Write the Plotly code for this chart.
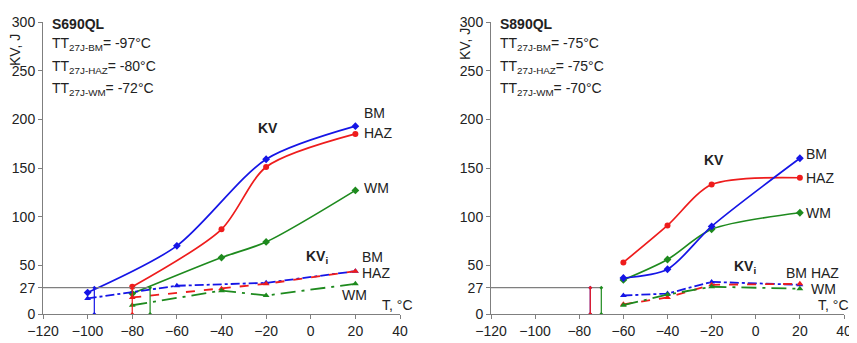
import plotly.graph_objects as go

# ---------- data ----------
temps_l = [-100, -60, -20, 20]
kv_bm_l = [22, 70, 159, 193]
temps_haz_l = [-80, -40, -20, 20]
kv_haz_l = [28, 87, 151, 185]
temps_wm_l = [-80, -40, -20, 20]
kv_wm_l = [21, 58, 74, 127]

kvi_bm_x_l = [-100, -60, -20, 20]
kvi_bm_l = [16, 29, 32, 44]
kvi_haz_x_l = [-80, -40, -20, 20]
kvi_haz_l = [17, 26, 31, 44]
kvi_wm_x_l = [-80, -40, -20, 20]
kvi_wm_l = [9, 24, 19, 31]

temps_r = [-60, -40, -20, 20]
kv_bm_r = [37, 46, 90, 160]
kv_haz_r = [53, 91, 133, 140]
kv_wm_r = [35, 56, 87, 104]
kvi_bm_r = [19, 21, 33, 30]
kvi_haz_r = [10, 17, 30, 31]
kvi_wm_r = [9, 20, 28, 26]

tt_l = {"BM": -97, "HAZ": -80, "WM": -72}
tt_r = {"BM": -75, "HAZ": -75, "WM": -70}
kv27 = 27

x_ticks = [-120, -100, -80, -60, -40, -20, 0, 20, 40]
y_ticks = [0, 27, 50, 100, 150, 200, 250, 300]

BLUE = "#1515e6"
RED = "#ee1c1c"
GREEN = "#1e8a1e"
GRAY = "#7f7f7f"

fig = go.Figure()

def add_panel(xa, ya, kv_sets, kvi_sets, tt):
    for (xs, ys, col, sym) in kv_sets:
        fig.add_trace(go.Scatter(x=xs, y=ys, mode="lines+markers", xaxis=xa, yaxis=ya,
                                 line=dict(color=col, width=1.7, shape="spline", smoothing=0.8),
                                 marker=dict(color=col, size=6, symbol=sym), showlegend=False))
    for (xs, ys, col, dash) in kvi_sets:
        fig.add_trace(go.Scatter(x=xs, y=ys, mode="lines+markers", xaxis=xa, yaxis=ya,
                                 line=dict(color=col, width=1.8, dash=dash),
                                 marker=dict(color=col, size=6, symbol="triangle-up"), showlegend=False))
    xmax = max(tt.values())
    fig.add_trace(go.Scatter(x=[-120, xmax], y=[kv27, kv27], mode="lines", xaxis=xa, yaxis=ya,
                             line=dict(color=GRAY, width=1.2), showlegend=False))
    cols = {"BM": BLUE, "HAZ": RED, "WM": GREEN}
    for k in ["BM", "HAZ", "WM"]:
        fig.add_trace(go.Scatter(x=[tt[k], tt[k]], y=[0, kv27], mode="lines+markers", xaxis=xa, yaxis=ya,
                                 line=dict(color=cols[k], width=1.2),
                                 marker=dict(color=cols[k], size=3, symbol="diamond"), showlegend=False))

add_panel("x", "y",
          [(temps_l, kv_bm_l, BLUE, "diamond"), (temps_haz_l, kv_haz_l, RED, "circle"),
           (temps_wm_l, kv_wm_l, GREEN, "diamond")],
          [(kvi_bm_x_l, kvi_bm_l, BLUE, "dashdot"), (kvi_haz_x_l, kvi_haz_l, RED, "dash"),
           (kvi_wm_x_l, kvi_wm_l, GREEN, "longdashdot")],
          tt_l)
add_panel("x2", "y2",
          [(temps_r, kv_haz_r, RED, "circle"), (temps_r, kv_wm_r, GREEN, "diamond"),
           (temps_r, kv_bm_r, BLUE, "diamond")],
          [(temps_r, kvi_bm_r, BLUE, "dashdot"), (temps_r, kvi_haz_r, RED, "dash"),
           (temps_r, kvi_wm_r, GREEN, "longdashdot")],
          tt_r)

# The page body has an 8px margin, so the figure is drawn from (8, 8).
OFF = 8
W, H = 857 - OFF, 343 - OFF

def px_x(X):
    return (X - OFF) / W

def px_y(Y):
    return 1 - (Y - OFF) / H

F = "Liberation Sans, Arial"
axis_common = dict(showgrid=False, zeroline=False, showline=True, linecolor=GRAY, linewidth=1,
                   ticks="outside", ticklen=4, tickcolor=GRAY, automargin=False,
                   tickfont=dict(family=F, size=14, color="#222"))
xd1 = [px_x(43), px_x(400)]
xd2 = [px_x(491), px_x(844)]
yd = [px_y(314), px_y(22)]

fig.update_layout(
    template="none",
    width=W, height=H, margin=dict(l=0, r=0, t=0, b=0, autoexpand=False),
    paper_bgcolor="white", plot_bgcolor="white",
    xaxis=dict(domain=xd1, range=[-120, 40], tickvals=x_ticks, anchor="y", **axis_common),
    yaxis=dict(domain=yd, range=[0, 300], tickvals=y_ticks, anchor="x", **axis_common),
    xaxis2=dict(domain=xd2, range=[-120, 40], tickvals=x_ticks, anchor="y2", **axis_common),
    yaxis2=dict(domain=yd, range=[0, 300], tickvals=y_ticks, anchor="x2", **axis_common),
)

ann = []

def txt(xr, yr, x, y, text, size=14, bold=False, xanchor="left"):
    if bold:
        text = "<b>" + text + "</b>"
    ann.append(dict(xref=xr, yref=yr, x=x, y=y, text=text, showarrow=False, xanchor=xanchor,
                    yanchor="middle", font=dict(family=F, size=size, color="#222")))

for xr, yr, name, tt in [("x", "y", "S690QL", tt_l), ("x2", "y2", "S890QL", tt_r)]:
    txt(xr, yr, -117, 298, name, 14, True)
    txt(xr, yr, -117, 277, "TT<sub>27J-BM</sub>= %d°C" % tt["BM"], 14)
    txt(xr, yr, -117, 254, "TT<sub>27J-HAZ</sub>= %d°C" % tt["HAZ"], 14)
    txt(xr, yr, -117, 231, "TT<sub>27J-WM</sub>= %d°C" % tt["WM"], 14)

# left labels
txt("x", "y", -19, 191, "KV", 14, True, "center")
txt("x", "y", 3, 59, "KV<sub>i</sub>", 14, True, "center")
txt("x", "y", 23, 207, "BM")
txt("x", "y", 23, 186, "HAZ")
txt("x", "y", 23, 129, "WM")
txt("x", "y", 22, 59, "BM")
txt("x", "y", 22, 42, "HAZ")
txt("x", "y", 13, 20, "WM")
txt("x", "y", 31, 9, "T, °C")

# right labels
txt("x2", "y2", -19, 158, "KV", 14, True, "center")
txt("x2", "y2", -5, 48, "KV<sub>i</sub>", 14, True, "center")
txt("x2", "y2", 22, 164, "BM")
txt("x2", "y2", 22, 140, "HAZ")
txt("x2", "y2", 22, 104, "WM")
txt("x2", "y2", 13, 42, "BM HAZ")
txt("x2", "y2", 24, 26, "WM")
txt("x2", "y2", 27.5, 9, "T, °C")

# y axis titles
for X, Y in [(15, 50), (465, 44)]:
    ann.append(dict(xref="paper", yref="paper", x=px_x(X), y=px_y(Y), text="KV, J",
                    textangle=-90, showarrow=False, xanchor="center", yanchor="middle",
                    font=dict(family=F, size=14, color="#222")))

fig.update_layout(annotations=ann)
fig.write_html("out.html")
